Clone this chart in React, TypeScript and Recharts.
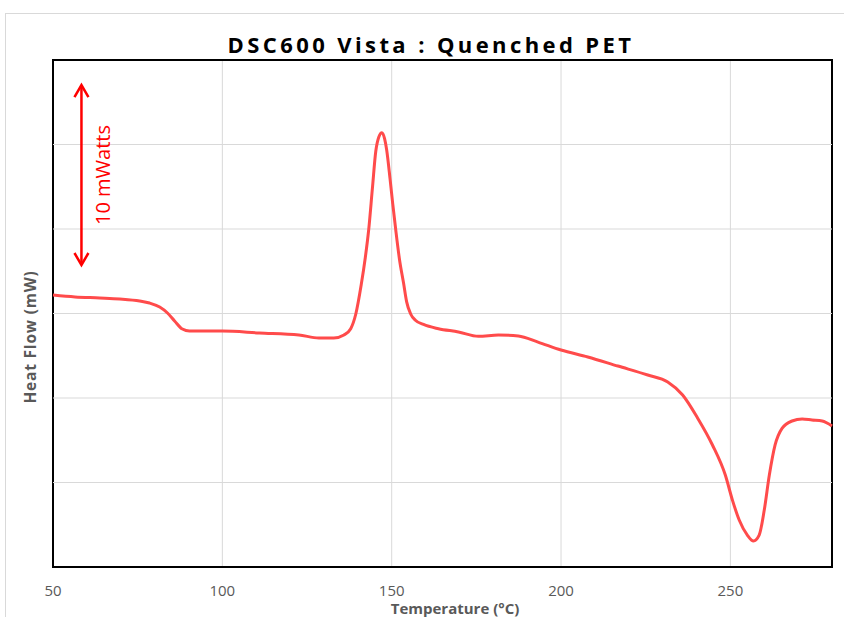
import { LineChart, Line, XAxis, YAxis, CartesianGrid, ReferenceArea, ReferenceLine } from 'recharts';

const temps = [
  50, 56.5, 63.8, 69.7, 75.6, 78.5, 81.5, 83.8, 85.9, 88.2, 90.3, 100, 110.9, 122.6, 128.5, 132.9,
  135.9, 137.9, 139.4, 141, 142.2, 143.2, 144.3, 145.3, 146.2, 147.1, 147.9, 148.5, 149.5, 150.3,
  151.2, 152.3, 153.5, 154.4, 155.6, 157, 159.4, 163.8, 169.7, 175.6, 181.5, 187.4, 193.2, 200,
  207.9, 216.8, 225.6, 231.5, 235.9, 240.3, 244.7, 248.5, 250.6, 252.6, 255, 256.8, 258.5, 260,
  261.5, 263.2, 265.3, 268.2, 271.2, 274.1, 277.1, 280,
];
const heatFlow = [
  16.09, 15.98, 15.92, 15.86, 15.74, 15.62, 15.38, 15.03, 14.56, 14.08, 13.96, 13.96, 13.85, 13.73, 13.55, 13.55,
  13.73, 14.1, 14.97, 16.7, 18.3, 19.94, 22.4, 24.6, 25.45, 25.7, 25.35, 24.7, 23.0, 21.5,
  19.94, 18.2, 16.8, 15.7, 14.97, 14.6, 14.35, 14.1, 13.91, 13.65, 13.73, 13.67, 13.31, 12.84,
  12.43, 11.89, 11.36, 10.95, 10.18, 8.82, 7.22, 5.44, 3.96, 2.78, 1.89, 1.54, 1.89, 3.37,
  5.44, 7.22, 8.22, 8.64, 8.76, 8.7, 8.64, 8.35,
];
const xTicks = [50, 100, 150, 200, 250];
const yTicks = [5, 10, 15, 20, 25];

const data = temps.map((t, i) => ({ t, hf: heatFlow[i] }));

const arrowX = 58.4;
const arrowLow = 17.87;
const arrowHigh = 28.52;

const ScaleArrow = (p: any) => {
  const { x1, y1, x2, y2 } = p;
  const top = Math.min(y1, y2);
  const bottom = Math.max(y1, y2);
  return (
    <g stroke="#FF0000" strokeWidth={2.5} fill="none">
      <line x1={x1} y1={top} x2={x2} y2={bottom} />
      <polyline points={`${x1 - 7},${top + 12} ${x1},${top} ${x1 + 7},${top + 12}`} />
      <polyline points={`${x1 - 7},${bottom - 12} ${x1},${bottom} ${x1 + 7},${bottom - 12}`} />
      <text
        x={x1 + 21}
        y={(top + bottom) / 2}
        transform={`rotate(-90 ${x1 + 21} ${(top + bottom) / 2})`}
        textAnchor="middle"
        fill="#FF0000"
        stroke="none"
        fontSize={20}
        dominantBaseline="central"
      >
        10 mWatts
      </text>
    </g>
  );
};

export default function App() {
  return (
    <div style={{ position: 'absolute', left: 0, top: 0, width: 844, height: 617, background: '#fff', overflow: 'hidden', fontFamily: '"Open Sans", sans-serif' }}>
      <div style={{ position: 'absolute', left: 5, top: 13, width: 850, height: 620, border: '1px solid #d9d9d9' }} />
      <div style={{ position: 'absolute', left: 0, width: 862, top: 29, textAlign: 'center', fontWeight: 700, fontSize: 22, letterSpacing: 3.4, color: '#000' }}>
        DSC600 Vista : Quenched PET
      </div>
      <div style={{ position: 'absolute', left: 30, top: 337, transform: 'translate(-50%, -50%) rotate(-90deg)', whiteSpace: 'nowrap', fontWeight: 700, fontSize: 15.5, letterSpacing: 0.8, color: '#595959' }}>
        Heat Flow (mW)
      </div>
      <div style={{ position: 'absolute', left: 455, top: 608, transform: 'translate(-50%, -50%)', whiteSpace: 'nowrap', fontWeight: 700, fontSize: 15, lineHeight: '17px', color: '#595959' }}>
        Temperature (°C)
      </div>
      <div style={{ position: 'absolute', left: 0, top: 0 }}>
        <LineChart width={844} height={617} data={data} margin={{ top: 60, right: 12, bottom: 20, left: 53 }}>
          <CartesianGrid stroke="#d9d9d9" strokeWidth={1} horizontal={false} />
          <XAxis
            dataKey="t"
            type="number"
            domain={[50, 280]}
            ticks={xTicks}
            height={30}
            axisLine={false}
            tickLine={false}
            tickMargin={12}
            tick={{ fill: '#595959', fontSize: 15 }}
          />
          <YAxis type="number" domain={[0, 30]} width={0} tick={false} axisLine={false} tickLine={false} />
          {yTicks.map((v) => (
            <ReferenceLine key={v} y={v} stroke="#d9d9d9" strokeWidth={1} />
          ))}
          <ReferenceArea x1={50} x2={280} y1={0} y2={30} fill="none" stroke="#000" strokeWidth={2} ifOverflow="visible" />
          <ReferenceLine
            segment={[{ x: arrowX, y: arrowLow }, { x: arrowX, y: arrowHigh }]}
            shape={ScaleArrow}
            ifOverflow="visible"
          />
          <Line type="monotone" dataKey="hf" stroke="#FF4B4B" strokeWidth={3} dot={false} isAnimationActive={false} />
        </LineChart>
      </div>
    </div>
  );
}
